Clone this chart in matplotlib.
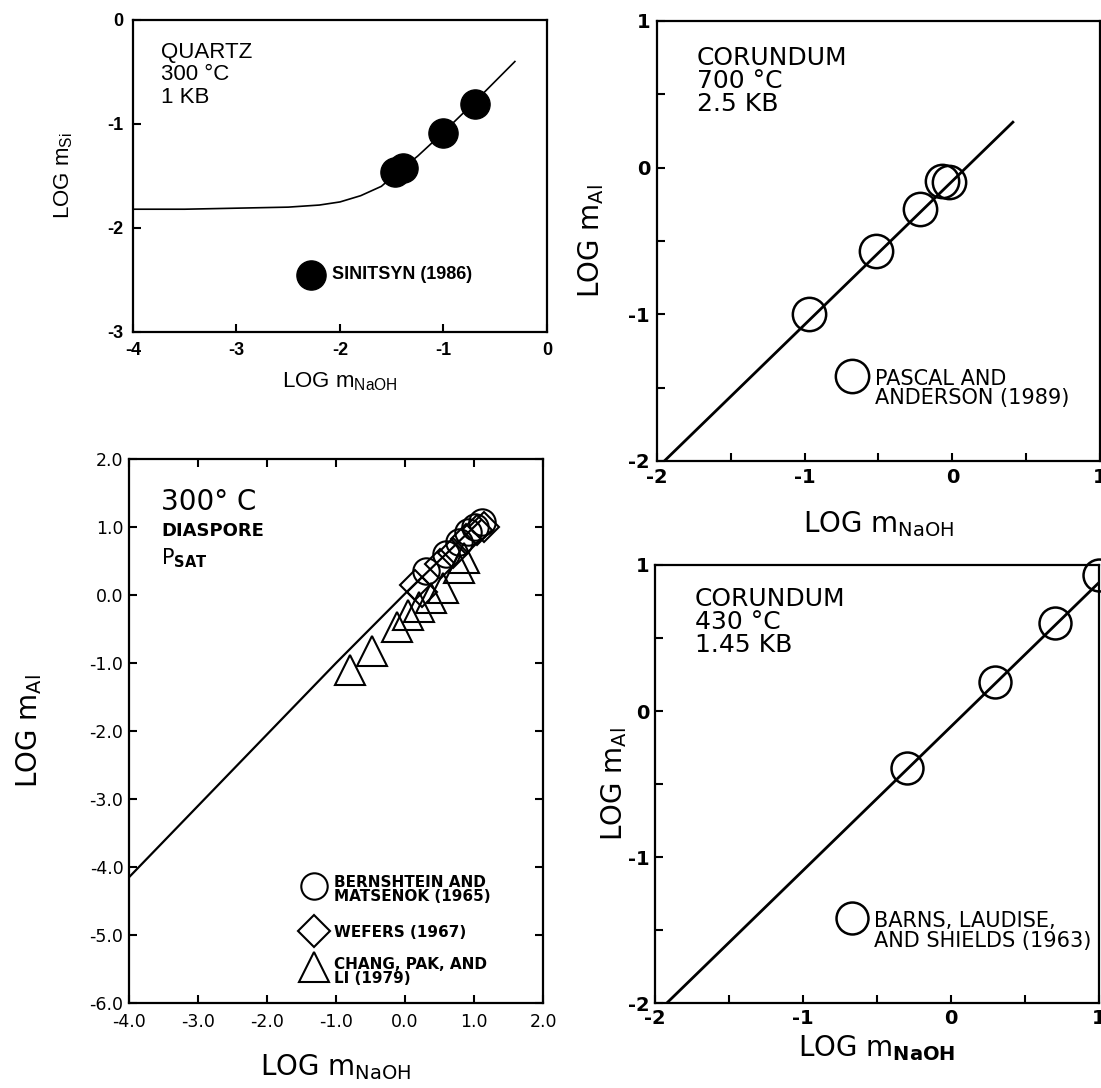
import numpy as np
import matplotlib
matplotlib.use("Agg")
import matplotlib.pyplot as plt

plt.rcParams['axes.unicode_minus'] = False
plt.rcParams['font.family'] = ['DejaVu Sans']
plt.rcParams['mathtext.fontset'] = 'dejavusans'

# Quartz, 300 C, 1 kb (Sinitsyn 1986)
quartz_x = [-0.70, -1.00, -1.39, -1.47]
quartz_y = [-0.81, -1.09, -1.42, -1.46]
quartz_curve_x = [-4.0, -3.5, -3.0, -2.5, -2.2, -2.0, -1.8, -1.6, -1.45, -1.25, -1.0, -0.7, -0.31]
quartz_curve_y = [-1.82, -1.82, -1.81, -1.80, -1.78, -1.75, -1.69, -1.60, -1.47, -1.31, -1.08, -0.79, -0.40]

# Corundum, 700 C, 2.5 kb (Pascal and Anderson 1989)
cor700_x = [-0.97, -0.52, -0.22, -0.07, -0.02]
cor700_y = [-1.00, -0.57, -0.28, -0.09, -0.10]
cor700_line_x = [-1.95, 0.41]
cor700_line_y = [-2.00, 0.31]

# Diaspore, 300 C, Psat
dia_line_x = [-4.0, -1.0, 0.0, 1.1]
dia_line_y = [-4.15, -1.00, 0.02, 1.10]
bern_x = [0.30, 0.60, 0.78, 0.92, 1.02, 1.12]
bern_y = [0.36, 0.60, 0.78, 0.92, 1.00, 1.08]
wefers_x = [0.15, 0.25, 0.50, 0.70, 0.88, 1.05, 1.15]
wefers_y = [0.15, 0.05, 0.45, 0.62, 0.82, 0.95, 1.00]
chang_x = [-0.80, -0.48, -0.12, 0.05, 0.20, 0.38, 0.55, 0.78, 0.85]
chang_y = [-1.10, -0.82, -0.47, -0.30, -0.18, -0.05, 0.10, 0.40, 0.55]

# Corundum, 430 C, 1.45 kb (Barns, Laudise and Shields 1963)
cor430_x = [-0.30, 0.30, 0.70, 1.00]
cor430_y = [-0.39, 0.20, 0.60, 0.93]
cor430_line_x = [-1.92, 1.00]
cor430_line_y = [-2.00, 0.88]

fig = plt.figure(figsize=(11.01, 10.88), dpi=100)
ax1 = fig.add_axes([0.1208, 0.6949, 0.3760, 0.2868])
ax2 = fig.add_axes([0.5967, 0.5763, 0.4024, 0.4044])
ax3 = fig.add_axes([0.1172, 0.0781, 0.3760, 0.5000])
ax4 = fig.add_axes([0.5949, 0.0781, 0.4033, 0.4026])

for ax in (ax1, ax2, ax3, ax4):
    for sp in ax.spines.values():
        sp.set_linewidth(1.6)
    ax.tick_params(which='both', direction='in', width=1.5, length=6, labelsize=13)

open_mk = dict(ls='none', marker='o', mfc='none', mec='k', mew=1.8, clip_on=False)

# --- quartz ---
ax1.plot(quartz_curve_x, quartz_curve_y, color='k', lw=1.2)
ax1.plot(quartz_x, quartz_y, ls='none', marker='o', ms=21, color='k')
ax1.set_xlim(-4, 0)
ax1.set_ylim(-3, 0)
ax1.set_xticks([-4, -3, -2, -1, 0])
ax1.set_yticks([-3, -2, -1, 0])
ax1.tick_params(pad=7)
for lab in ax1.get_xticklabels() + ax1.get_yticklabels():
    lab.set_fontfamily('Liberation Sans')
    lab.set_fontweight('bold')
ax1.set_xlabel(r'LOG m$_\mathregular{NaOH}$', fontsize=16, family='Liberation Sans')
ax1.set_ylabel(r'LOG m$_\mathregular{Si}$', fontsize=16, family='Liberation Sans')
ax1.xaxis.set_label_coords(0.5, -0.16)
ax1.yaxis.set_label_coords(-0.168, 0.5)
ax1.xaxis.label.set_va('center')
ax1.yaxis.label.set_va('center')
ax1.text(0.0675, 0.93, 'QUARTZ\n300 °C\n1 KB', transform=ax1.transAxes, va='top', ha='left',
         fontsize=16, family='Liberation Sans', linespacing=1.1)
ax1.plot([0.43], [0.183], transform=ax1.transAxes, marker='o', ms=21, color='k', clip_on=False)
ax1.text(0.48, 0.183, 'SINITSYN (1986)', transform=ax1.transAxes, va='center', ha='left',
         fontsize=13, fontweight='bold', family='Liberation Sans')

# --- corundum 700 C ---
ax2.plot(cor700_line_x, cor700_line_y, color='k', lw=2.0)
ax2.plot(cor700_x, cor700_y, ms=24, **open_mk)
ax2.set_xlim(-2, 1)
ax2.set_ylim(-2, 1)
ax2.set_xticks([-2, -1, 0, 1])
ax2.set_yticks([-2, -1, 0, 1])
ax2.set_xticks([-1.5, -0.5, 0.5], minor=True)
ax2.set_yticks([-1.5, -0.5, 0.5], minor=True)
ax2.tick_params(pad=5, labelsize=14)
for lab in ax2.get_xticklabels() + ax2.get_yticklabels():
    lab.set_fontweight('bold')
ax2.set_xlabel(r'LOG m$_\mathregular{NaOH}$', fontsize=20)
ax2.set_ylabel(r'LOG m$_\mathregular{Al}$', fontsize=20)
ax2.xaxis.set_label_coords(0.5, -0.143)
ax2.yaxis.set_label_coords(-0.149, 0.5)
ax2.xaxis.label.set_va('center')
ax2.yaxis.label.set_va('center')
ax2.text(0.09, 0.943, 'CORUNDUM\n700 °C\n2.5 KB', transform=ax2.transAxes, va='top', ha='left',
         fontsize=18, linespacing=0.95)
ax2.plot([0.44], [0.193], transform=ax2.transAxes, ms=24, **open_mk)
ax2.text(0.493, 0.21, 'PASCAL AND\nANDERSON (1989)', transform=ax2.transAxes, va='top', ha='left',
         fontsize=15, linespacing=0.95)

# --- diaspore 300 C ---
ax3.plot(dia_line_x, dia_line_y, color='k', lw=1.6)
ax3.plot(chang_x, chang_y, ls='none', marker='^', ms=22, mfc='none', mec='k', mew=1.5)
ax3.plot(wefers_x, wefers_y, ls='none', marker='D', ms=15, mfc='none', mec='k', mew=1.5)
ax3.plot(bern_x, bern_y, ls='none', marker='o', ms=19, mfc='none', mec='k', mew=1.5)
ax3.set_xlim(-4, 2)
ax3.set_ylim(-6, 2)
ax3.set_xticks(np.arange(-4, 2.1, 1.0))
ax3.set_yticks(np.arange(-6, 2.1, 1.0))
ax3.set_xticklabels([f'{v:.1f}' for v in np.arange(-4, 2.1, 1.0)])
ax3.set_yticklabels([f'{v:.1f}' for v in np.arange(-6, 2.1, 1.0)])
ax3.tick_params(top=True, right=True, pad=4, labelsize=12.5)
ax3.tick_params(axis='x', pad=7)
ax3.set_xlabel(r'LOG m$_\mathregular{NaOH}$', fontsize=20)
ax3.set_ylabel(r'LOG m$_\mathregular{Al}$', fontsize=20)
ax3.xaxis.set_label_coords(0.5, -0.118)
ax3.yaxis.set_label_coords(-0.242, 0.5)
ax3.xaxis.label.set_va('center')
ax3.yaxis.label.set_va('center')
ax3.text(0.078, 0.946, '300° C', transform=ax3.transAxes, va='top', ha='left', fontsize=20)
ax3.text(0.078, 0.8675, 'DIASPORE', transform=ax3.transAxes, va='center', ha='left',
         fontsize=13, fontweight='bold')
ax3.text(0.078, 0.84, r'P$_\mathbf{SAT}$', transform=ax3.transAxes, va='top', ha='left',
         fontsize=15)
ax3.plot([0.447], [0.215], transform=ax3.transAxes, ls='none', marker='o', ms=19,
         mfc='none', mec='k', mew=1.5, clip_on=False)
ax3.plot([0.447], [0.1325], transform=ax3.transAxes, ls='none', marker='D', ms=16,
         mfc='none', mec='k', mew=1.5, clip_on=False)
ax3.plot([0.447], [0.066], transform=ax3.transAxes, ls='none', marker='^', ms=22,
         mfc='none', mec='k', mew=1.5, clip_on=False)
legend_kw = dict(transform=ax3.transAxes, ha='left', fontsize=11, fontweight='bold', linespacing=0.9)
ax3.text(0.495, 0.235, 'BERNSHTEIN AND\nMATSENOK (1965)', va='top', **legend_kw)
ax3.text(0.495, 0.13, 'WEFERS (1967)', va='center', **legend_kw)
ax3.text(0.495, 0.085, 'CHANG, PAK, AND\nLI (1979)', va='top', **legend_kw)

# --- corundum 430 C ---
ax4.plot(cor430_line_x, cor430_line_y, color='k', lw=2.0)
ax4.plot(cor430_x, cor430_y, ms=23, **open_mk)
ax4.set_xlim(-2, 1)
ax4.set_ylim(-2, 1)
ax4.set_xticks([-2, -1, 0, 1])
ax4.set_yticks([-2, -1, 0, 1])
ax4.set_xticks([-1.5, -0.5, 0.5], minor=True)
ax4.set_yticks([-1.5, -0.5, 0.5], minor=True)
ax4.tick_params(pad=4, labelsize=14)
for lab in ax4.get_xticklabels() + ax4.get_yticklabels():
    lab.set_fontweight('bold')
ax4.set_xlabel(r'LOG m$_\mathbf{NaOH}$', fontsize=20)
ax4.set_ylabel(r'LOG m$_\mathregular{Al}$', fontsize=20)
ax4.xaxis.set_label_coords(0.5, -0.103)
ax4.yaxis.set_label_coords(-0.093, 0.5)
ax4.xaxis.label.set_va('center')
ax4.yaxis.label.set_va('center')
ax4.text(0.09, 0.95, 'CORUNDUM\n430 °C\n1.45 KB', transform=ax4.transAxes, va='top', ha='left',
         fontsize=18, linespacing=0.95)
ax4.plot([0.443], [0.193], transform=ax4.transAxes, ms=23, **open_mk)
ax4.text(0.493, 0.209, 'BARNS, LAUDISE,\nAND SHIELDS (1963)', transform=ax4.transAxes,
         va='top', ha='left', fontsize=15, linespacing=0.95)

fig.savefig('out.png', dpi=100)
